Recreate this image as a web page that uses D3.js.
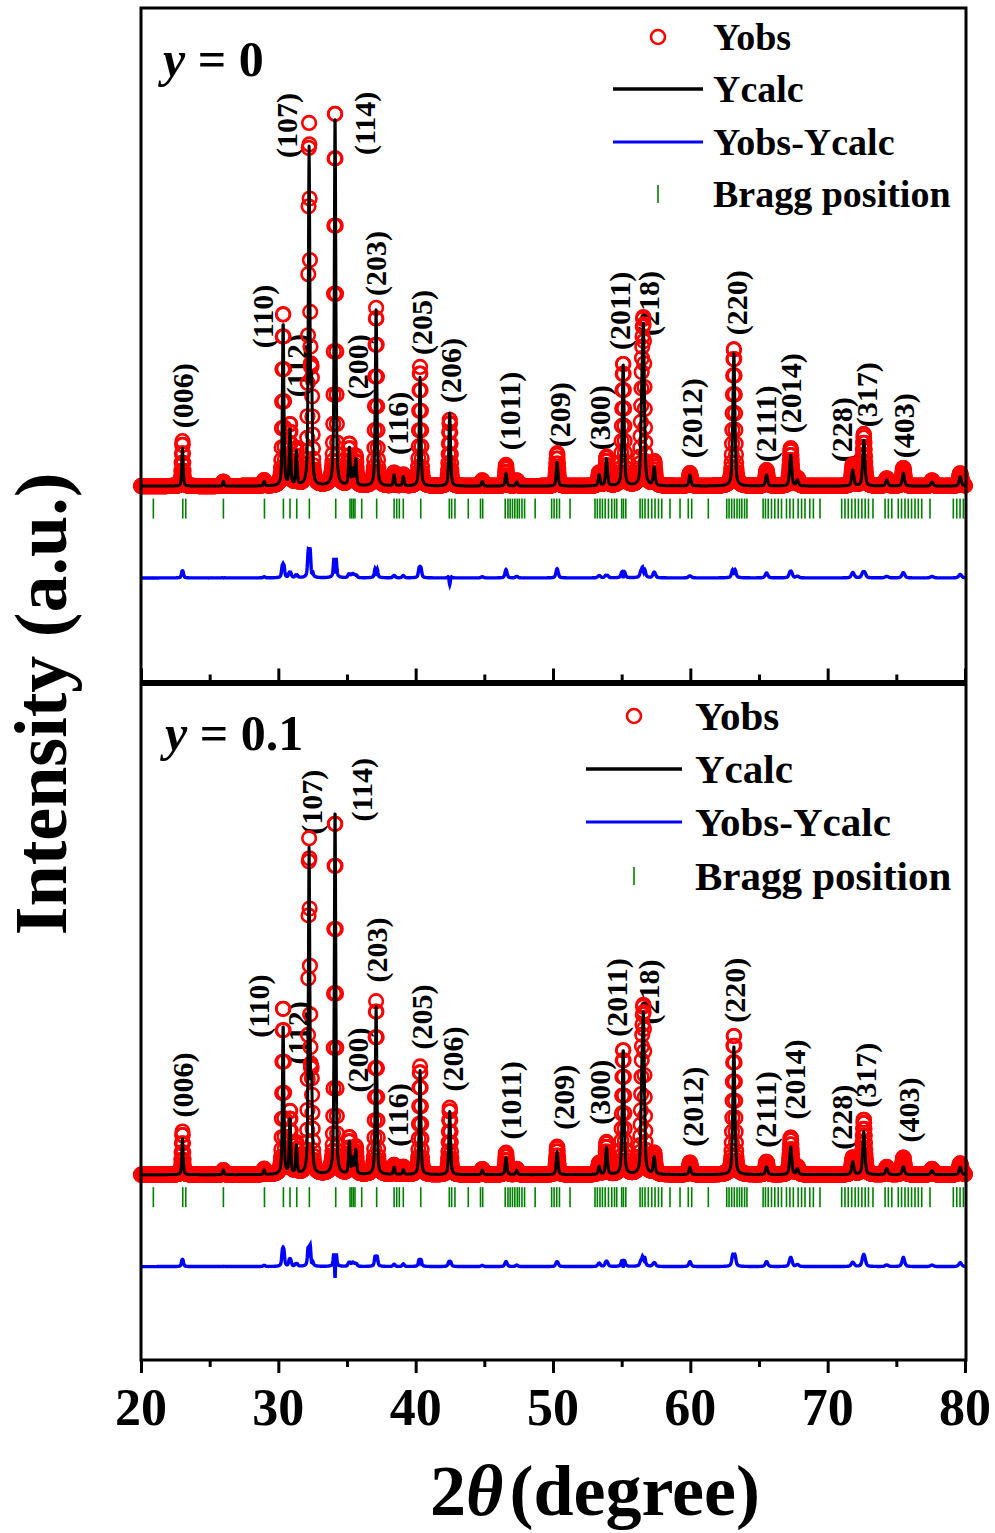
<!DOCTYPE html>
<html>
<head>
<meta charset="utf-8">
<script src="https://cdn.jsdelivr.net/npm/d3@7"></script>
<style>
  body { margin: 0; background: #fff; }
  svg { display: block; }
  text { font-family: "Liberation Serif", "Times New Roman", serif; font-weight: bold; fill: #000; }
</style>
</head>
<body>
<svg id="chart" width="995" height="1533"></svg>
<script>
// peak table (2theta in degrees, heights in a.u.)
var peakPos  = [23.02, 26.00, 28.97, 30.35, 30.85, 31.32, 32.24, 32.42, 34.13, 35.17, 35.42, 35.64, 37.12, 38.43, 39.10, 40.32, 42.48, 44.85, 46.58, 47.36, 50.30, 53.36, 53.90, 55.11, 56.47, 56.59, 57.37, 59.97, 63.17, 65.55, 67.31, 67.80, 71.83, 72.63, 74.30, 75.51, 77.60, 79.65];
var calcY0   = [10.0, 1.2, 1.2, 43.4, 14.8, 9.0, 88.4, 25.0, 98.7, 10.0, 4.0, 6.9, 46.6, 2.9, 2.4, 28.8, 19.3, 1.2, 3.4, 1.1, 6.3, 2.9, 7.1, 32.3, 19.3, 37.2, 4.8, 2.9, 35.4, 2.9, 8.2, 1.6, 4.2, 12.2, 1.6, 3.4, 1.1, 2.5];
var obsY0    = [11.9, 1.2, 1.5, 46.0, 16.0, 9.5, 94.2, 25.0, 100.0, 10.8, 5.0, 7.5, 47.1, 3.5, 3.0, 31.5, 17.5, 1.5, 5.6, 1.5, 8.7, 3.5, 7.7, 32.5, 20.0, 37.6, 6.3, 3.4, 36.5, 4.2, 10.0, 2.0, 5.6, 13.8, 2.0, 4.8, 1.5, 3.4];
var calcY1   = [9.5, 1.2, 1.2, 39.7, 14.6, 7.4, 85.2, 22.0, 97.1, 8.5, 4.0, 6.3, 44.4, 1.9, 1.3, 27.5, 16.7, 1.2, 4.5, 1.1, 6.1, 2.1, 7.1, 33.1, 19.8, 37.0, 4.5, 1.9, 34.1, 2.1, 7.4, 1.5, 3.4, 11.4, 1.6, 2.1, 1.1, 2.0];
var obsY1    = [11.4, 1.2, 1.5, 44.4, 16.5, 8.0, 87.3, 22.0, 94.2, 9.5, 5.0, 7.0, 45.8, 2.5, 2.0, 28.6, 17.7, 1.5, 5.8, 1.5, 7.4, 3.0, 8.5, 33.1, 20.0, 37.8, 5.5, 3.2, 37.0, 3.4, 9.8, 2.0, 4.5, 14.6, 2.0, 4.5, 1.5, 3.0];

// Bragg reflection positions (green ticks)
var braggPos = [20.90, 23.04, 23.26, 26.00, 28.99, 30.37, 30.85, 31.34, 32.26, 34.18, 35.22, 35.34, 35.46, 35.58, 36.07,
  37.16, 38.43, 38.62, 38.81, 39.10, 40.37, 42.45, 42.62, 42.86, 43.83, 44.72, 44.88, 46.52, 46.72, 46.88, 47.05,
  47.22, 47.40, 47.55, 47.74, 47.93, 48.70, 49.90, 50.08, 50.27, 50.47, 51.24, 53.06, 53.23, 53.42, 53.60, 53.80,
  54.04, 54.28, 54.48, 54.64, 55.00, 55.13, 55.30, 56.34, 56.51, 56.70, 56.94, 57.19, 57.43, 57.68, 57.92, 58.52,
  59.25, 59.85, 60.10, 61.31, 62.65, 62.82, 63.01, 63.20, 63.40, 63.58, 63.75, 63.95, 64.12, 65.30, 65.47, 65.67,
  65.91, 66.15, 66.40, 66.64, 67.00, 67.25, 67.50, 67.85, 68.10, 68.35, 68.70, 68.96, 69.44, 71.02, 71.26, 71.50,
  71.75, 72.00, 72.24, 72.49, 72.73, 72.97, 73.30, 74.18, 74.42, 74.67, 75.14, 75.38, 75.63, 75.87, 76.11, 76.36,
  76.60, 76.85, 77.45, 79.15, 79.40, 79.64, 79.88];

// hkl labels: 2theta of the label and intensity level of its lower end
var hklLabels  = ['(006)', '(110)', '(112)', '(107)', '(114)', '(200)', '(203)', '(116)', '(205)', '(206)', '(1011)', '(209)', '(300)', '(2011)', '(218)', '(2012)', '(220)', '(2111)', '(2014)', '(228)', '(317)', '(403)'];
var labelPosY0 = [22.99, 28.82, 31.29, 30.63, 36.24, 35.73, 37.11, 38.71, 40.39, 42.57, 46.80, 50.44, 53.35, 54.81, 56.99, 60.12, 63.33, 65.44, 67.33, 71.04, 72.86, 75.55];
var labelIntY0 = [15.3, 36.5, 23.5, 86.8, 87.6, 23.0, 50.3, 8.2, 34.7, 22.0, 9.5, 10.3, 9.5, 36.0, 39.7, 7.4, 39.9, 6.3, 14.0, 6.3, 15.6, 7.4];
var labelPosY1 = [22.99, 28.52, 31.36, 32.45, 36.09, 35.73, 37.18, 38.71, 40.46, 42.65, 46.87, 50.73, 53.42, 54.66, 56.92, 60.19, 63.25, 65.44, 67.62, 71.04, 72.72, 75.85];
var labelIntY1 = [15.1, 36.2, 29.1, 89.9, 93.4, 21.7, 50.8, 7.4, 33.1, 22.0, 9.3, 11.9, 13.2, 36.5, 39.7, 7.4, 40.2, 7.1, 14.6, 6.6, 17.7, 8.5];

var xTicks = [20, 30, 40, 50, 60, 70, 80];
var legendNames = ['Yobs', 'Ycalc', 'Yobs-Ycalc', 'Bragg position'];

var diffOffset = -24.3;
var stepDeg = 0.02;
var obsBroadening = 1.08;

var svg = d3.select('#chart');
var x = d3.scaleLinear().domain([20, 80]).range([141, 965]);

// pseudo-Voigt profile summed over the peak table
function profile(tt, heights, widen) {
    var s = 0;
    for (var i = 0; i < peakPos.length; i++) {
        var w = (0.11 + 0.0015 * (peakPos[i] - 20)) * widen;
        var d = (tt - peakPos[i]) / w;
        if (Math.abs(d) > 40) continue;
        var g = Math.exp(-4 * Math.LN2 * d * d);
        var l = 1 / (1 + 4 * d * d);
        s += heights[i] * (0.5 * g + 0.5 * l);
    }
    return s;
}

var grid = d3.range(20, 80.0001, stepDeg);

function drawPanel(cfg) {
    var y = d3.scaleLinear().domain(cfg.domain).range([cfg.bottom, cfg.top]);
    var g = svg.append('g');

    var pts = grid.map(function (t) {
        var o = profile(t, cfg.obs, obsBroadening);
        var c = profile(t, cfg.calc, 1);
        return { t: t, obs: o, calc: c, diff: o - c + diffOffset };
    });

    // hkl labels (under the data)
    g.selectAll('.hkl')
        .data(hklLabels)
        .enter()
        .append('text')
        .attr('class', 'hkl')
        .attr('transform', function (d, i) {
            return 'translate(' + x(cfg.labelPos[i]) + ',' + y(cfg.labelInt[i]) + ') rotate(-90)';
        })
        .attr('dy', '0.35em')
        .style('font-size', '30px')
        .text(function (d) { return d; });

    // Bragg ticks
    g.selectAll('.bragg')
        .data(braggPos)
        .enter()
        .append('line')
        .attr('x1', function (d) { return x(d); })
        .attr('x2', function (d) { return x(d); })
        .attr('y1', y(-3.3))
        .attr('y2', y(-8.6))
        .attr('stroke', '#008000')
        .attr('stroke-width', 1.6);

    // observed points
    g.selectAll('.obs')
        .data(pts)
        .enter()
        .append('circle')
        .attr('cx', function (d) { return x(d.t); })
        .attr('cy', function (d) { return y(d.obs); })
        .attr('r', 6.8)
        .attr('fill', 'none')
        .attr('stroke', '#ff0000')
        .attr('stroke-width', 2.6);

    g.append('path')
        .datum(pts)
        .attr('fill', 'none')
        .attr('stroke', '#000')
        .attr('stroke-width', 3)
        .attr('stroke-linejoin', 'round')
        .attr('d', d3.line().x(function (d) { return x(d.t); }).y(function (d) { return y(d.calc); }));

    g.append('path')
        .datum(pts)
        .attr('fill', 'none')
        .attr('stroke', '#0000ff')
        .attr('stroke-width', 3.4)
        .attr('d', d3.line().x(function (d) { return x(d.t); }).y(function (d) { return y(d.diff); }));

    // frame
    g.append('rect')
        .attr('x', 141).attr('y', cfg.frameTop)
        .attr('width', 825).attr('height', cfg.frameBottom - cfg.frameTop)
        .attr('fill', 'none').attr('stroke', '#000').attr('stroke-width', 3);

    // x axis ticks
    var axis = (cfg.inward ? d3.axisTop(x) : d3.axisBottom(x))
        .tickValues(d3.range(20, 80.1, 5))
        .tickFormat('')
        .tickSizeOuter(0)
        .tickSizeInner(13);
    var ax = g.append('g')
        .attr('transform', 'translate(0,' + cfg.frameBottom + ')')
        .call(axis);
    ax.select('.domain').remove();
    ax.selectAll('.tick line')
        .attr('stroke', '#000')
        .attr('stroke-width', 3)
        .attr('y2', function (d) {
            var len = (d % 10 === 0) ? 13 : 7;
            return cfg.inward ? -len : len;
        });

    // panel label
    var pl = g.append('text')
        .attr('x', cfg.tagX).attr('y', cfg.tagY)
        .style('font-size', '50px');
    pl.append('tspan').style('font-style', 'italic').text('y');
    pl.append('tspan').text(' = ' + cfg.tag);

    // legend
    var lg = g.append('g');
    var lx = cfg.legX, rows = cfg.legRows;
    lg.append('circle').attr('cx', lx).attr('cy', rows[0]).attr('r', 7)
        .attr('fill', 'none').attr('stroke', '#ff0000').attr('stroke-width', 2.6);
    lg.append('line').attr('x1', lx - cfg.legHalf).attr('x2', lx + cfg.legHalf)
        .attr('y1', rows[1]).attr('y2', rows[1]).attr('stroke', '#000').attr('stroke-width', 3.5);
    lg.append('line').attr('x1', lx - cfg.legHalf).attr('x2', lx + cfg.legHalf)
        .attr('y1', rows[2]).attr('y2', rows[2]).attr('stroke', '#0000ff').attr('stroke-width', 3);
    lg.append('line').attr('x1', lx).attr('x2', lx)
        .attr('y1', rows[3] - 9).attr('y2', rows[3] + 9).attr('stroke', '#008000').attr('stroke-width', 1.6);
    lg.selectAll('.legtext')
        .data(legendNames)
        .enter()
        .append('text')
        .attr('x', cfg.legTextX)
        .attr('y', function (d, i) { return rows[i] + cfg.legFont * 0.34; })
        .style('font-size', cfg.legFont + 'px')
        .text(function (d) { return d; });
}

drawPanel({
    calc: calcY0, obs: obsY0, labelPos: labelPosY0, labelInt: labelIntY0,
    domain: [-52.1, 126.5], top: 8, bottom: 683,
    frameTop: 8, frameBottom: 681.5, inward: true,
    tag: '0', tagX: 163, tagY: 76,
    legX: 658, legHalf: 45, legTextX: 713, legFont: 38, legRows: [37, 89, 142, 194]
});

drawPanel({
    calc: calcY1, obs: obsY1, labelPos: labelPosY1, labelInt: labelIntY1,
    domain: [-49, 130], top: 683, bottom: 1360,
    frameTop: 684.5, frameBottom: 1360, inward: false,
    tag: '0.1', tagX: 165, tagY: 750,
    legX: 634, legHalf: 48, legTextX: 695, legFont: 41, legRows: [716, 769, 822, 876]
});

// x tick labels
svg.selectAll('.xlab')
    .data(xTicks)
    .enter()
    .append('text')
    .attr('x', function (d) { return x(d); })
    .attr('y', 1425)
    .attr('text-anchor', 'middle')
    .style('font-size', '52px')
    .text(function (d) { return d; });

// axis titles
var xt = svg.append('text')
    .attr('x', 595).attr('y', 1515)
    .attr('text-anchor', 'middle')
    .style('font-size', '72px');
xt.append('tspan').text('2');
xt.append('tspan').style('font-style', 'italic').text('θ');
xt.append('tspan').attr('dx', 6).text('(degree)');

svg.append('text')
    .attr('transform', 'translate(66,704) rotate(-90)')
    .attr('text-anchor', 'middle')
    .style('font-size', '74px')
    .text('Intensity (a.u.)');
</script>
</body>
</html>
